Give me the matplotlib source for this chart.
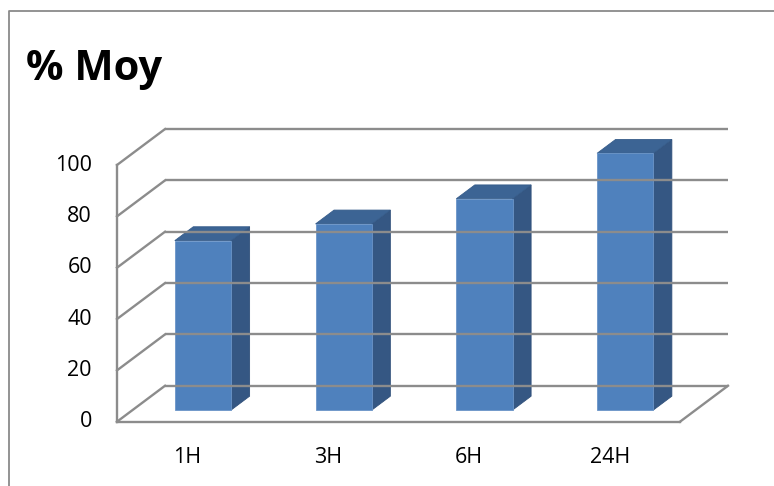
import matplotlib
matplotlib.use('Agg')
import matplotlib.pyplot as plt
from matplotlib.patches import Polygon
from matplotlib.lines import Line2D

# ── data ────────────────────────────────────────────────────────────────
CATEGORIES = ['1H', '3H', '6H', '24H']
VALUES     = [66, 72.5, 82.3, 100]
Y_TICKS    = [0, 20, 40, 60, 80, 100]
TITLE      = '% Moy'

# ── pseudo-3D geometry (category units along x, value units along y) ──
DX, DY       = 0.341, 14.0      # full depth offset of the back wall
BAR_W        = 0.4              # bar width as fraction of a category
BAR_D0, BAR_D1 = 0.325, 0.71    # bar front/back depth fractions

GRID_C  = '#8c8c8c'
FRONT_C = '#4f81bd'
SIDE_C  = '#355783'
TOP_C   = '#3c6494'

W, H = 774, 486
fig = plt.figure(figsize=(W / 100, H / 100), dpi=100)
plt.rcParams['font.family'] = ['Open Sans', 'DejaVu Sans']

# axes box == front plane of the floor/value axis
ax = fig.add_axes([117 / W, (H - 421.7) / H, 563 / W, 256.7 / H])
ax.set_xlim(0, len(CATEGORIES))
ax.set_ylim(0, 100)
ax.axis('off')

n = len(CATEGORIES)
lw = 1.7

# back wall gridlines + left wall diagonals
for v in Y_TICKS:
    ax.plot([DX, n + DX], [v + DY, v + DY], color=GRID_C, lw=lw, clip_on=False,
            solid_capstyle='butt')
    ax.plot([0, DX], [v, v + DY], color=GRID_C, lw=lw, clip_on=False)

# front value axis and floor front edge / right edge
ax.plot([0, 0], [0, Y_TICKS[-1]], color=GRID_C, lw=lw, clip_on=False)
ax.plot([0, n], [0, 0], color=GRID_C, lw=lw, clip_on=False)
ax.plot([n, n + DX], [0, DY], color=GRID_C, lw=lw, clip_on=False)

# columns
for i, v in enumerate(VALUES):
    x0 = i + (1 - BAR_W) / 2 + BAR_D0 * DX
    y0 = BAR_D0 * DY
    x1 = x0 + BAR_W
    ddx = (BAR_D1 - BAR_D0) * DX
    ddy = (BAR_D1 - BAR_D0) * DY
    front = [(x0, y0), (x1, y0), (x1, y0 + v), (x0, y0 + v)]
    side = [(x1, y0), (x1 + ddx, y0 + ddy), (x1 + ddx, y0 + v + ddy), (x1, y0 + v)]
    top = [(x0, y0 + v), (x1, y0 + v), (x1 + ddx, y0 + v + ddy), (x0 + ddx, y0 + v + ddy)]
    ax.add_patch(Polygon(side, closed=True, fc=SIDE_C, ec='#30507a', lw=0.6, clip_on=False))
    ax.add_patch(Polygon(top, closed=True, fc=TOP_C, ec='#365c8a', lw=0.6, clip_on=False))
    ax.add_patch(Polygon(front, closed=True, fc=FRONT_C, ec='#6b95c8', lw=0.6, clip_on=False))

# value labels
for v in Y_TICKS:
    ax.text(-0.178, v, str(v), ha='right', va='center', fontsize=15.5,
            color='black', clip_on=False)

# category labels
for i, c in enumerate(CATEGORIES):
    ax.text(i + 0.5, -13.9, c, ha='center', va='center', fontsize=15.5,
            color='black', clip_on=False)

fig.text(26 / W, 1 - 80 / H, TITLE, ha='left', va='baseline', fontsize=30,
         fontweight='bold', color='black')

# chart-area border (only top and left edges fall inside the frame)
fig.add_artist(Line2D([9 / W, 9 / W, 1], [0, 1 - 11 / H, 1 - 11 / H],
                      transform=fig.transFigure, color='#8a8a8a', lw=1.3))

fig.savefig('out.png', dpi=100)
